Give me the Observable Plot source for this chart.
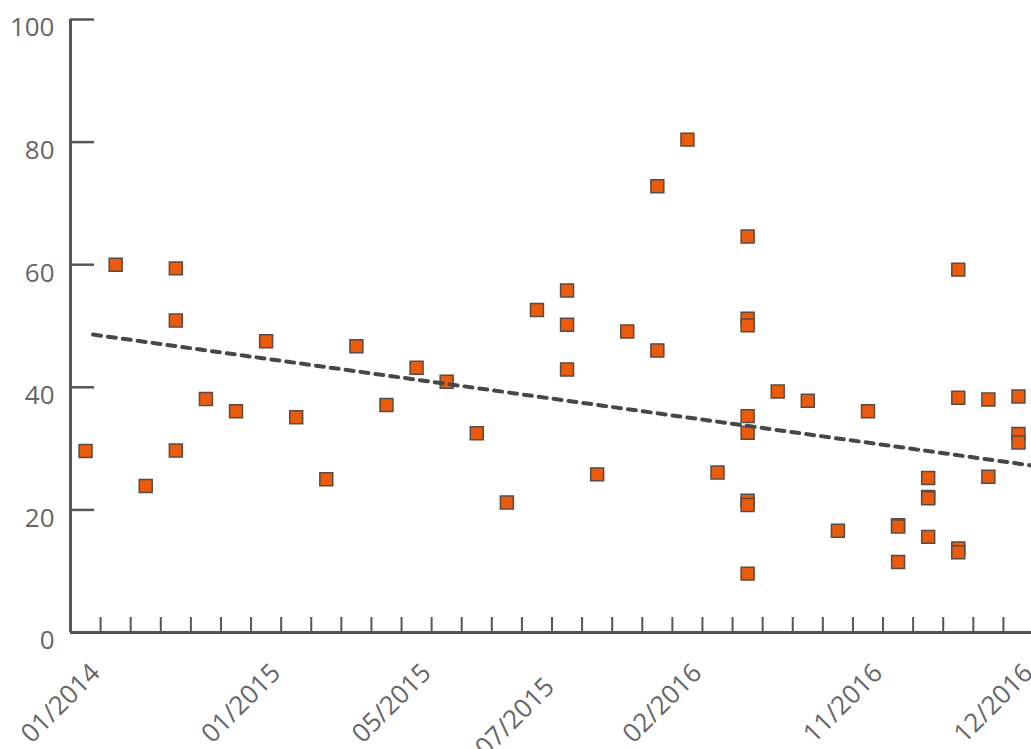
<!DOCTYPE html>
<html><head><meta charset="utf-8">
<script src="https://cdn.jsdelivr.net/npm/d3@7"></script>
<script src="https://cdn.jsdelivr.net/npm/@observablehq/plot@0.6"></script>
<style>body{margin:0;background:#fff;overflow:hidden}</style>
</head><body><div id="chart"></div>
<script>
// category index of each measurement (32 date categories, 0..31)
const pointIndex = [0,1,2,3,3,3,4,5,6,7,8,9,10,11,12,13,14,15,16,16,16,17,18,19,19,20,21,22,22,22,22,22,22,22,22,23,24,25,26,27,27,27,28,28,28,28,29,29,29,29,30,30,31,31,31];
const pointValue = [29.6,60.0,23.9,59.4,50.9,29.7,38.1,36.1,47.5,35.1,25.0,46.7,37.1,43.2,40.9,32.5,21.2,52.6,55.8,50.2,42.9,25.8,49.1,72.8,46.0,80.4,26.1,64.6,51.2,50.1,35.3,32.6,21.5,20.8,9.6,39.3,37.8,16.6,36.1,17.5,17.3,11.5,25.2,22.1,21.9,15.6,59.2,38.3,13.7,13.1,38.0,25.4,38.5,32.4,31.0];
const categoryCount = 32;
const tickLabelIndex = [0,6,11,15,20,26,31];
const tickLabels = ["01/2014","01/2015","05/2015","07/2015","02/2016","11/2016","12/2016"];
const yTicks = [0,20,40,60,80,100];
const trendIndex = [0.25, 31.5];
const trendValue = [48.6, 27.2];

const xDomain = [-0.5, categoryCount - 0.5];
const data = pointIndex.map((x, i) => ({x, y: pointValue[i]}));
const trend = trendIndex.map((x, i) => ({x, y: trendValue[i]}));
const edgeTicks = d3.range(categoryCount - 1).map(k => k + 0.5);
const labelMap = new Map(tickLabelIndex.map((k, i) => [k + 0.5, tickLabels[i]]));
const normalLabelTicks = tickLabelIndex.filter(k => k !== 15).map(k => k + 0.5);
const shiftedLabelTicks = [15.5];

const axisColor = "#555";
const chart = Plot.plot({
  width: 1031, height: 749,
  marginLeft: 70, marginRight: -2, marginTop: 19, marginBottom: 117,
  style: {fontFamily: "'Open Sans', sans-serif", fontSize: "26px", color: "#666", background: "#fff"},
  x: {domain: xDomain, axis: null},
  y: {domain: [0, 100], axis: null},
  marks: [
    Plot.axisY(yTicks, {tickSize: -24, fill: "none", stroke: axisColor, strokeWidth: 2.5, label: null}),
    Plot.axisY(yTicks, {tickSize: 0, tickPadding: 16, dy: 8.5, fill: "#666", label: null}),
    Plot.axisX(edgeTicks, {tickSize: -15, fill: "none", stroke: axisColor, strokeWidth: 2, label: null}),
    Plot.axisX(normalLabelTicks, {tickSize: 0, tickRotate: -45, tickPadding: 36, dx: -5, tickFormat: d => labelMap.get(d), fill: "#666", label: null}),
    Plot.axisX(shiftedLabelTicks, {tickSize: 0, tickRotate: -45, tickPadding: 50, dx: -2, tickFormat: d => labelMap.get(d), fill: "#666", label: null}),
    Plot.ruleX([xDomain[0]], {stroke: axisColor, strokeWidth: 3}),
    Plot.ruleY([0], {stroke: axisColor, strokeWidth: 3}),
    Plot.dot(data, {x: "x", y: "y", symbol: "square", r: 7.3, fill: "#ea5b0c", stroke: "#5b4a42", strokeWidth: 1.5}),
    Plot.line(trend, {x: "x", y: "y", stroke: "#474747", strokeWidth: 4, strokeDasharray: "8,7"})
  ]
});
document.getElementById("chart").append(chart);
</script>
</body></html>
